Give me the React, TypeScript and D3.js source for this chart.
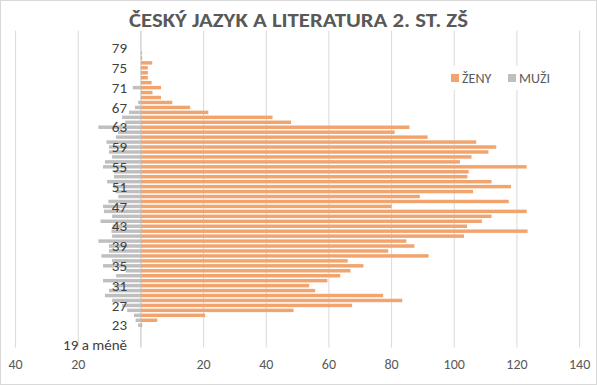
import * as d3 from 'd3'

// age groups, bottom to top
const ages = ['19 a méně', ...d3.range(20, 83).map(String)]

// women (ŽENY) per age, same order as ages
const zeny = [
  0, 0, 0, 0, 0.4, 5.2, 20.5, 48.7, 67.4, 83.4,
  77.3, 55.6, 53.7, 59.5, 63.6, 66.9, 71.0, 66.0, 91.8, 78.9,
  87.3, 84.7, 103.1, 123.4, 104.1, 108.8, 111.9, 123.1, 80.0, 117.4,
  89.0, 106.0, 118.1, 111.9, 104.2, 104.6, 123.1, 101.8, 105.5, 110.9,
  113.4, 107.0, 91.5, 81.0, 85.7, 47.9, 42.0, 21.5, 15.7, 10.0,
  6.4, 3.7, 6.4, 3.4, 2.2, 2.2, 2.2, 3.6, 0.4, 0.3,
  0, 0, 0, 0,
]

// men (MUŽI) per age, drawn to the left
const muzi = [
  0, 0, 0, 0, 0.9, 1.7, 2.2, 4.4, 6.0, 9.2,
  11.5, 10.2, 8.6, 12.1, 7.9, 4.9, 12.1, 9.2, 12.6, 10.2,
  10.2, 13.6, 9.2, 9.4, 9.0, 12.9, 9.2, 11.8, 12.1, 10.4,
  7.2, 8.1, 8.6, 10.8, 8.6, 8.6, 12.1, 11.5, 9.2, 10.2,
  10.2, 11.0, 8.0, 7.3, 13.6, 5.0, 6.0, 3.8, 1.9, 0.9,
  0, 0, 2.6, 0, 0, 0, 0, 0, 0, 0,
  0, 0, 0, 0,
]

const xTicks = [-40, -20, 0, 20, 40, 60, 80, 100, 120, 140]
const shownAges = ['19 a méně', '23', '27', '31', '35', '39', '43', '47', '51', '55', '59', '63', '67', '71', '75', '79']

const title = 'ČESKÝ JAZYK A LITERATURA 2. ST. ZŠ'
const legend = [
  { name: 'ŽENY', color: '#F2A46E' },
  { name: 'MUŽI', color: '#BFBFBF' },
]

const width = 597
const height = 385
const font = 'Carlito, Calibri, Lato, sans-serif'

export default function App() {
  const x = d3.scaleLinear().domain([-40, 140]).range([15.6, 579.6])
  const y = d3.scaleBand<string>()
    .domain([...ages].reverse())
    .range([30.7, 347.5])
    .paddingInner(0.3)
    .paddingOuter(0.15)
  const [top, bottom] = y.range()

  return (
    <svg width={width} height={height} style={{ position: 'absolute', left: 0, top: 0, background: '#fff' }}
      fontFamily={font}>
      <rect x={0.5} y={0.5} width={width - 1} height={height - 1} fill="#fff" stroke="#d9d9d9" />

      {/* gridlines */}
      {xTicks.map(t => (
        <line key={t} x1={x(t)} x2={x(t)} y1={top} y2={bottom}
          stroke={t === 0 ? '#bfbfbf' : '#d9d9d9'} strokeWidth={1} />
      ))}

      {/* bars */}
      {ages.map((a, i) => (
        <g key={a}>
          {zeny[i] > 0 && (
            <rect x={x(0)} y={y(a)} width={x(zeny[i]) - x(0)} height={y.bandwidth()} fill={legend[0].color} />
          )}
          {muzi[i] > 0 && (
            <rect x={x(-muzi[i])} y={y(a)} width={x(0) - x(-muzi[i])} height={y.bandwidth()} fill={legend[1].color} />
          )}
        </g>
      ))}

      {/* category labels */}
      {shownAges.map(a => (
        <text key={a} x={127} y={(y(a) ?? 0) + y.bandwidth() / 2} dy="0.35em" textAnchor="end"
          fontSize={15} fill="#404040">{a}</text>
      ))}

      {/* value labels, zero hidden */}
      {xTicks.map(t => (
        <text key={t} x={x(t)} y={369} textAnchor="middle" fontSize={14} fill="#595959">
          {t === 0 ? '' : Math.abs(t)}
        </text>
      ))}

      {/* legend */}
      <rect x={446} y={66} width={108} height={24} fill="#fff" />
      {legend.map((l, i) => (
        <g key={l.name} transform={`translate(${451 + i * 57},78)`}>
          <rect x={0} y={-4} width={8} height={8} fill={l.color} />
          <text x={11} y={0} dy="0.35em" fontSize={14} fill="#595959">{l.name}</text>
        </g>
      ))}

      <text x={width / 2} y={27} textAnchor="middle" fontSize={19.5} fontWeight="bold" fill="#595959"
        textLength={339} lengthAdjust="spacingAndGlyphs">{title}</text>
    </svg>
  )
}
